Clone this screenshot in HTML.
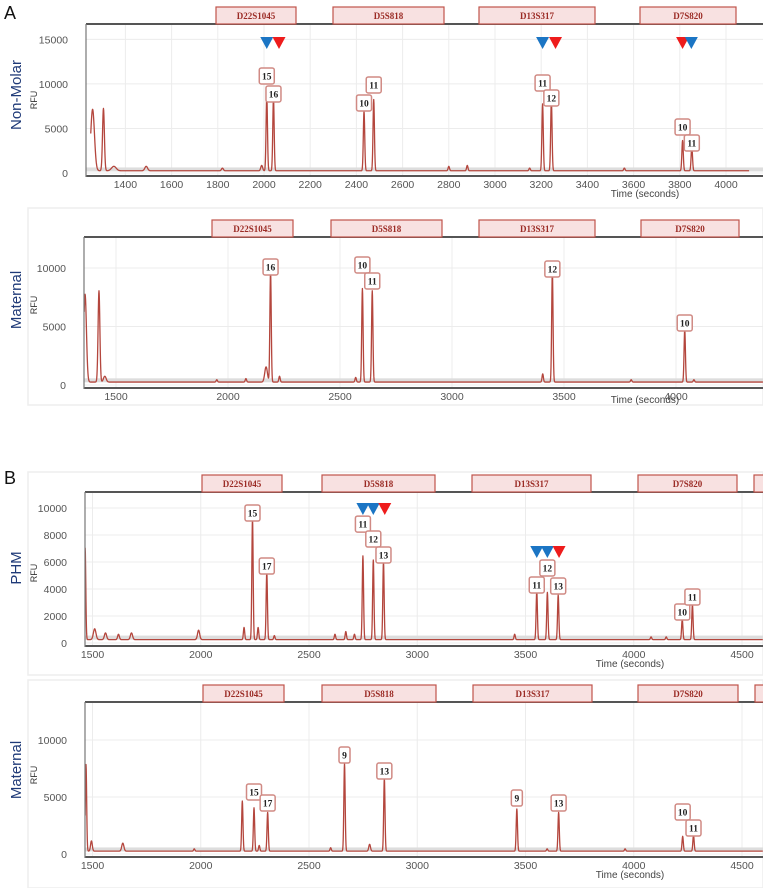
<!DOCTYPE html>
<html><head><meta charset="utf-8"><style>
body{margin:0;background:#fff;}
svg{display:block;font-family:"Liberation Sans",sans-serif;}
</style></head><body>
<svg id="chart" width="763" height="888" viewBox="0 0 763 888" xmlns="http://www.w3.org/2000/svg"></svg>
<script>
// ---- Data ----
// Panel A1 Non-Molar
const a1PeakT = [1258,1305,1350,1490,1820,1990,2012,2041,2433,2475,2800,2880,3150,3206,3244,3560,3812,3852];
const a1PeakH = [6900,7000,500,500,300,600,8500,8200,6700,8000,500,600,300,7500,7900,300,3400,2700];
const a1PeakW = [8,4,10,6,4,4,3,3,3,3,3,3,3,3,3,3,3,3];
const a1LabT = [2012,2041,2433,2475,3206,3244,3812,3852];
const a1LabV = [10890,8870,7860,9880,10100,8420,5160,3370];
const a1LabText = ["15","16","10","11","11","12","10","11"];
const a1TriT = [2012,2065,3206,3262,3812,3850];
const a1TriC = ["blue","red","blue","red","red","blue"];
const a1YTicks = [0,5000,10000,15000];
const a1XTicks = [1400,1600,1800,2000,2200,2400,2600,2800,3000,3200,3400,3600,3800,4000];
// Panel A2 Maternal
const a2PeakT = [1362,1424,1450,1950,2080,2170,2190,2230,2570,2600,2644,3405,3448,3800,4039,4080];
const a2PeakH = [7500,7800,500,200,300,1300,9500,500,400,8000,7800,700,9500,200,4500,200];
const a2PeakW = [6,4,6,3,3,6,3,3,3,3,3,3,3,3,3,3];
const a2LabT = [2190,2600,2644,3448,4039];
const a2LabV = [10090,10260,8890,9910,5300];
const a2LabText = ["16","10","11","12","10"];
const a2TriT = [];
const a2TriC = [];
const a2YTicks = [0,5000,10000];
const a2XTicks = [1500,2000,2500,3000,3500,4000];
// Panel B1 PHM
const b1PeakT = [1466,1510,1560,1620,1680,1990,2200,2239,2265,2305,2340,2620,2670,2710,2749,2797,2844,3450,3552,3601,3651,4080,4150,4224,4271];
const b1PeakH = [6800,800,500,400,500,700,900,9000,900,5000,300,400,600,400,6200,5900,5800,400,3600,3500,3300,200,200,1500,2600];
const b1PeakW = [3,6,5,4,5,5,3,3,3,3,3,3,3,3,3,3,3,3,3,3,3,3,3,3,3];
const b1LabT = [2239,2305,2749,2797,2844,3552,3601,3651,4224,4271];
const b1LabV = [9630,5700,8810,7700,6520,4300,5560,4220,2300,3410];
const b1LabText = ["15","17","11","12","13","11","12","13","10","11"];
const b1TriT = [2749,2797,2850,3552,3601,3655];
const b1TriC = ["blue","blue","red","blue","blue","red"];
const b1YTicks = [0,2000,4000,6000,8000,10000];
const b1XTicks = [1500,2000,2500,3000,3500,4000,4500];
// Panel B2 Maternal
const b2PeakT = [1470,1495,1640,1970,2192,2246,2270,2309,2600,2664,2780,2848,3460,3600,3653,3960,4226,4276];
const b2PeakH = [7600,900,700,200,4400,3800,500,3400,300,7700,600,6400,3700,200,3400,200,1300,1400];
const b2PeakW = [3,4,5,3,3,3,3,3,3,3,4,3,3,3,3,3,3,3];
const b2LabT = [2246,2309,2664,2848,3460,3653,4226,4276];
const b2LabV = [5440,4470,8680,7280,4910,4470,3680,2280];
const b2LabText = ["15","17","9","13","9","13","10","11"];
const b2TriT = [];
const b2TriC = [];
const b2YTicks = [0,5000,10000];
const b2XTicks = [1500,2000,2500,3000,3500,4000,4500];
const loci = ["D22S1045","D5S818","D13S317","D7S820"];

// ---- Geometry (layout only) ----
const panels = [
 {id:"a1",name:"Non-Molar",ny:95,top:24,zero:173,pxk:0.00891,left:86,refT:2000,refX:264,k:0.231,tmin:1250,tmax:4100,
  boxes:[[216,296],[333,444],[479,595],[640,736]],boxTop:7,xt:[645,197],
  pt:a1PeakT,ph:a1PeakH,pw:a1PeakW,lt:a1LabT,lv:a1LabV,lx:a1LabText,tt:a1TriT,tc:a1TriC,yt:a1YTicks,xs:a1XTicks,frame:[0,0,0,0]},
 {id:"a2",name:"Maternal",ny:300,top:237,zero:385,pxk:0.0117,left:84,refT:1500,refX:116,k:0.224,tmin:1357,tmax:4400,
  boxes:[[212,293],[331,442],[479,595],[641,739]],boxTop:220,xt:[645,403],
  pt:a2PeakT,ph:a2PeakH,pw:a2PeakW,lt:a2LabT,lv:a2LabV,lx:a2LabText,tt:a2TriT,tc:a2TriC,yt:a2YTicks,xs:a2XTicks,frame:[28,208,763,405]},
 {id:"b1",name:"PHM",ny:568,top:492,zero:643,pxk:0.0135,left:85,refT:1500,refX:92.5,k:0.2165,tmin:1464,tmax:4600,
  boxes:[[202,282],[322,435],[472,591],[638,737],[754,800]],boxTop:475,xt:[630,667],
  pt:b1PeakT,ph:b1PeakH,pw:b1PeakW,lt:b1LabT,lv:b1LabV,lx:b1LabText,tt:b1TriT,tc:b1TriC,yt:b1YTicks,xs:b1XTicks,frame:[28,472,763,675]},
 {id:"b2",name:"Maternal",ny:770,top:702,zero:854,pxk:0.0114,left:85,refT:1500,refX:92.5,k:0.2165,tmin:1464,tmax:4600,
  boxes:[[203,284],[322,436],[473,592],[638,738],[755,800]],boxTop:685,xt:[630,878],
  pt:b2PeakT,ph:b2PeakH,pw:b2PeakW,lt:b2LabT,lv:b2LabV,lx:b2LabText,tt:b2TriT,tc:b2TriC,yt:b2YTicks,xs:b2XTicks,frame:[28,680,763,888]}
];
const triYs = {a1:37,b1:[503,503,503,546,546,546]};

const NS="http://www.w3.org/2000/svg";
const svg=document.getElementById('chart');
function mk(tag,attrs,parent){const e=document.createElementNS(NS,tag);for(const k in attrs)e.setAttribute(k,attrs[k]);(parent||svg).appendChild(e);return e;}

let t1=mk('text',{x:4,y:19,'font-size':18,fill:'#111'});t1.textContent='A';


let t2=mk('text',{x:4,y:484,'font-size':18,fill:'#111'});t2.textContent='B';



panels.forEach(p=>{
  const g=mk('g',{});
  
  
  const X=t=>p.refX+(t-p.refT)*p.k;
  const Y=v=>p.zero-v*p.pxk;
  if(p.frame[2]){mk('rect',{x:p.frame[0],y:p.frame[1],width:p.frame[2]-p.frame[0],height:p.frame[3]-p.frame[1],fill:'none',stroke:'#eee','stroke-width':1.5},g);}
  p.xs.forEach(t=>{const x=X(t);if(x>p.left&&x<763){mk('line',{x1:x,x2:x,y1:p.top,y2:p.zero+3,stroke:'#ececec','stroke-width':1},g);
    const l=mk('text',{x:x,y:p.zero+15,'font-size':10.5,fill:'#555','text-anchor':'middle'},g);l.textContent=t;
    
    }});
  p.yt.forEach(v=>{const y=Y(v);mk('line',{x1:p.left,x2:763,y1:y,y2:y,stroke:'#ececec','stroke-width':1},g);
    const l=mk('text',{x:p.left-18,y:y+4,'font-size':10.5,fill:'#555','text-anchor':'end'},g);l.textContent=v;
    
    });
  mk('rect',{x:p.left,y:Y(400)-2,width:763-p.left,height:4,fill:'#ddd'},g);
  let d='';
  for(let t=p.tmin;t<=p.tmax;t+=1){let v=250;for(let i=0;i<p.pt.length;i++){const z=(t-p.pt[i])/p.pw[i];if(Math.abs(z)<6)v+=p.ph[i]*Math.exp(-z*z/2);}
    const x=X(t);if(x<p.left)continue;if(x>763)break;d+=(d?'L':'M')+x.toFixed(2)+' '+Y(v).toFixed(2);}
  const tr=mk('path',{d:d,fill:'none',stroke:'#b4463d','stroke-width':1.3,'stroke-linejoin':'round'},g);
  
  
  mk('line',{x1:p.left,x2:763,y1:p.top,y2:p.top,stroke:'#555','stroke-width':2},g);
  mk('line',{x1:p.left,x2:763,y1:p.zero+3,y2:p.zero+3,stroke:'#555','stroke-width':2},g);
  mk('line',{x1:p.left,x2:p.left,y1:p.top,y2:p.zero+4,stroke:'#777','stroke-width':1.2},g);
  p.boxes.forEach((b,i)=>{const r=mk('rect',{x:b[0],y:p.boxTop,width:b[1]-b[0],height:p.top-p.boxTop,fill:'#f8e1e1',stroke:'#c0534b','stroke-width':1.2},g);
    
    
    if(loci[i]){const l=mk('text',{x:(b[0]+b[1])/2,y:p.boxTop+12,'font-size':9,'font-weight':'bold','font-family':'"Liberation Serif",serif',fill:'#9b2b25','text-anchor':'middle'},g);l.textContent=loci[i];
      
      }});
  p.lt.forEach((t,i)=>{const x=X(t),y=Y(p.lv[i]);const w=p.lx[i].length>1?15:11;
    mk('rect',{x:x-w/2,y:y-8,width:w,height:16,rx:2,fill:'#fff',stroke:'#d08a84','stroke-width':1.5},g);
    const l=mk('text',{x:x,y:y+3.5,'font-size':9.5,'font-weight':'bold','font-family':'"Liberation Serif",serif',fill:'#222','text-anchor':'middle'},g);l.textContent=p.lx[i];
    
    });
  p.tt.forEach((t,i)=>{const x=X(t);const ty=p.id==='a1'?37:triYs.b1[i];
    const tri=mk('polygon',{points:`${x-6.5},${ty} ${x+6.5},${ty} ${x},${ty+12}`,fill:p.tc[i]==='red'?'#ee1c1c':'#1b75c4'},g);
    
    });
  const n=mk('text',{x:0,y:0,'font-size':15,fill:'#1f3a78','text-anchor':'middle',transform:`translate(21,${p.ny}) rotate(-90)`},g);n.textContent=p.name;
  
  
  const r=mk('text',{x:0,y:0,'font-size':9,fill:'#333','text-anchor':'middle',transform:`translate(37,${p.ny+5}) rotate(-90)`},g);r.textContent='RFU';
  
  
  const xt=mk('text',{x:p.xt[0],y:p.xt[1],'font-size':10,fill:'#444','text-anchor':'middle'},g);xt.textContent='Time (seconds)';
  
  
});
</script>
</body></html>
